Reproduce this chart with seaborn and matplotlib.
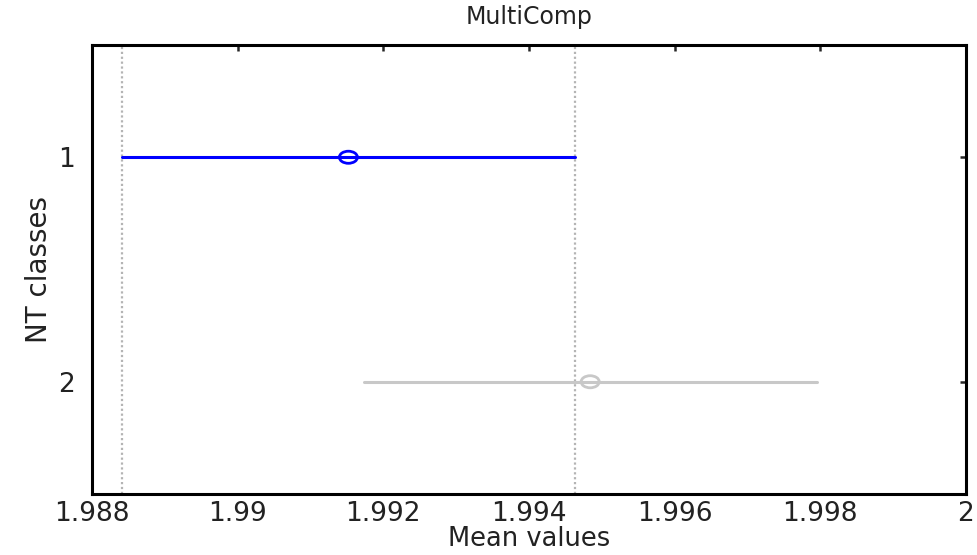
import matplotlib
matplotlib.use("Agg")
import matplotlib.pyplot as plt
from matplotlib.path import Path
import seaborn as sns
import pandas as pd

classes = [1, 2]
means = [1.99152, 1.99484]
lower = [1.98841, 1.99173]
upper = [1.99463, 1.99795]
colors = ["#0000ff", "#c8c8c8"]
xticks = [1.988, 1.99, 1.992, 1.994, 1.996, 1.998, 2.0]
xtick_labels = ["1.988", "1.99", "1.992", "1.994", "1.996", "1.998", "2"]

sns.set_style("white")
plt.rcParams["font.family"] = ["DejaVu Sans"]

fig = plt.figure(figsize=(9.77, 5.55), dpi=100)
ax = fig.add_axes([0.0942, 0.1099, 0.8945, 0.809])

# slightly wide open-circle marker (as in the reference)
uc = Path.unit_circle()
ellipse = Path(uc.vertices * [1.5, 1.0], uc.codes)

# reference lines at the selected group's interval ends
for v in (lower[0], upper[0]):
    ax.axvline(v, color="#b4b4b4", linestyle=(0, (1, 1.2)), linewidth=1.6, zorder=1)

for c, m, lo, hi, col in zip(classes, means, lower, upper, colors):
    seg = pd.DataFrame({"x": [lo, hi], "y": [c, c]})
    sns.lineplot(data=seg, x="x", y="y", ax=ax, color=col, linewidth=2.2,
                 sort=False, estimator=None, zorder=3)
    pt = pd.DataFrame({"x": [m], "y": [c]})
    sns.scatterplot(data=pt, x="x", y="y", ax=ax, marker=ellipse, s=170,
                    facecolors="none", edgecolor=col, linewidth=2, zorder=4)

ax.set_xlim(1.988, 2.0)
ax.set_ylim(2.5, 0.5)
ax.set_xticks(xticks)
ax.set_xticklabels(xtick_labels)
ax.set_yticks(classes)
ax.set_yticklabels([str(c) for c in classes])
ax.tick_params(direction="in", length=4, width=1.8, labelsize=19,
               top=True, right=True, labelcolor="#222222")
ax.tick_params(axis="x", pad=5)
ax.tick_params(axis="y", pad=12)
for s in ax.spines.values():
    s.set_visible(True)
    s.set_color("black")
    s.set_linewidth(2.2)

ax.set_title("MultiComp", fontsize=17, color="#222222", pad=15)
ax.set_xlabel("Mean values", fontsize=18.5, color="#222222", labelpad=-1)
ax.set_ylabel("NT classes", fontsize=20, color="#222222", labelpad=4)

fig.savefig("out.png", dpi=100, facecolor="white")
